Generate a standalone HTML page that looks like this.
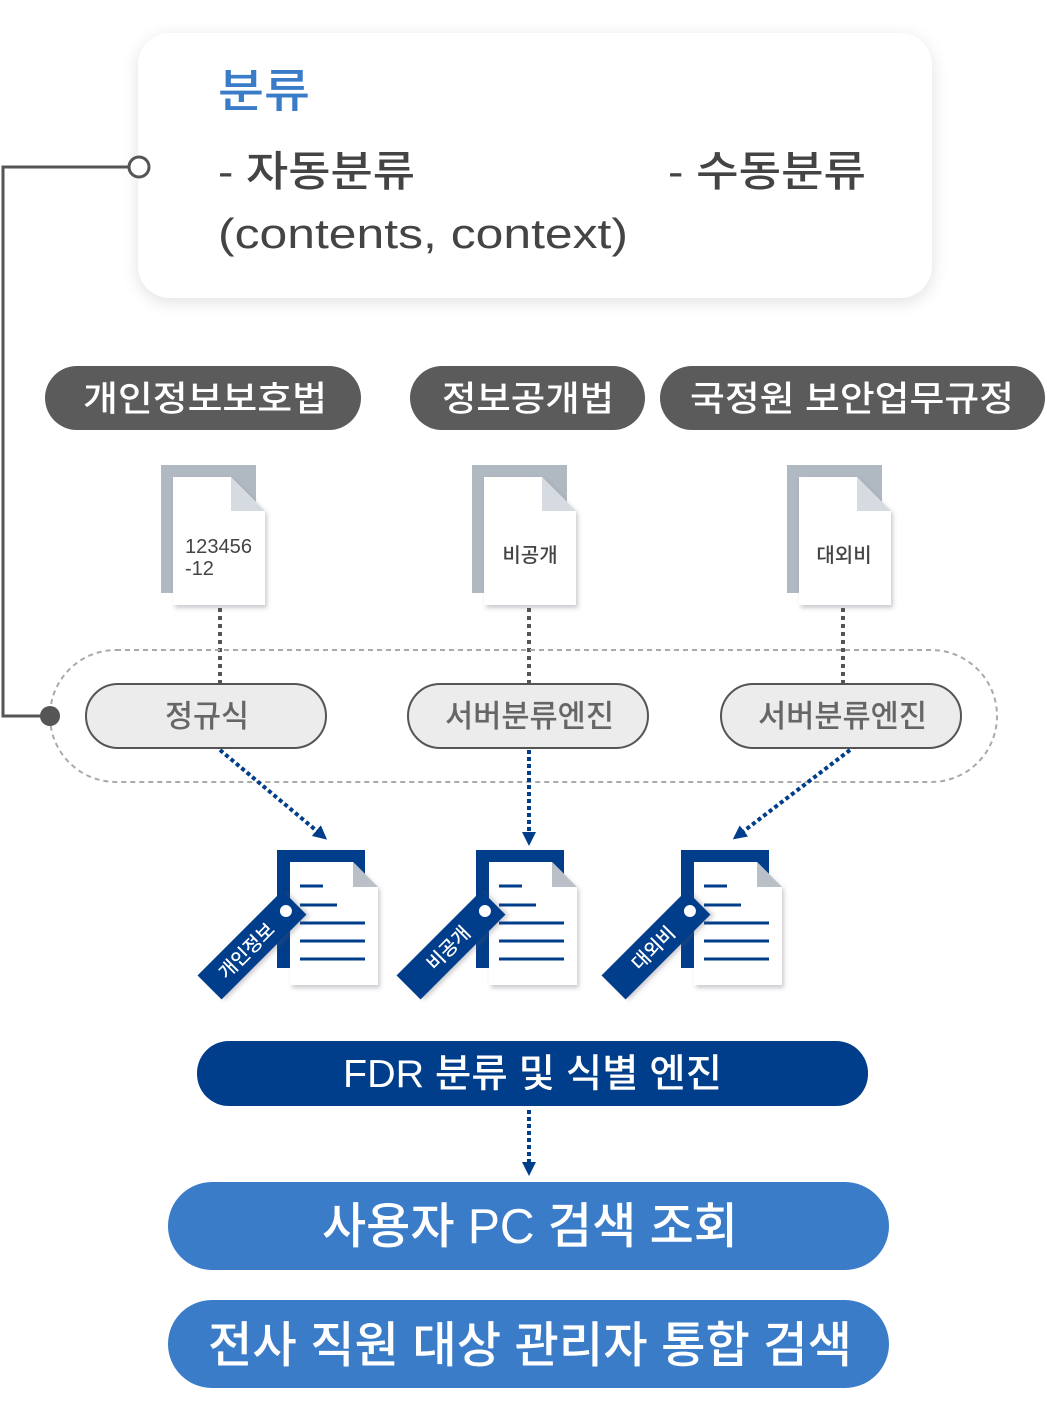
<!DOCTYPE html>
<html><head><meta charset="utf-8"><style>
html,body{margin:0;padding:0;background:#fff;}
svg{display:block;font-family:"Liberation Sans","Noto Sans CJK KR",sans-serif;}
text{font-weight:500;}
</style></head><body>
<svg width="1047" height="1419" viewBox="0 0 1047 1419" xmlns="http://www.w3.org/2000/svg">
<defs>
<filter id="sh" x="-10%" y="-10%" width="120%" height="130%"><feDropShadow dx="0" dy="4" stdDeviation="8" flood-color="#000" flood-opacity="0.12"/></filter>
<filter id="ds" x="-20%" y="-20%" width="150%" height="150%"><feDropShadow dx="2" dy="3" stdDeviation="2" flood-color="#556" flood-opacity="0.3"/></filter>
<marker id="ar" markerWidth="14" markerHeight="14" refX="10" refY="7" orient="auto" markerUnits="userSpaceOnUse" viewBox="0 0 14 14"><path d="M0,0 L14,7 L0,14z" fill="#003d8a"/></marker>
<g id="bdoc">
<rect x="277" y="850" width="88" height="118" fill="#003d8a"/>
<path d="M290 862 H353 L378 887 V985 H290Z" fill="#fff" filter="url(#ds)"/>
<path d="M353 862 L378 887 H353Z" fill="#b9c0c8"/>
<g stroke="#003d8a" stroke-width="3">
<line x1="300" y1="886" x2="323" y2="886"/><line x1="300" y1="905" x2="337" y2="905"/>
<line x1="300" y1="923" x2="365" y2="923"/><line x1="300" y1="941" x2="365" y2="941"/><line x1="300" y1="959" x2="365" y2="959"/>
</g>
</g>
</defs>
<rect x="138" y="33" width="794" height="265" rx="32" fill="#fff" filter="url(#sh)"/>
<text x="218" y="107" font-size="46" font-weight="bold" fill="#3a7cc8" textLength="92" lengthAdjust="spacingAndGlyphs">분류</text>
<text x="218" y="186" font-size="42" fill="#444" textLength="197" lengthAdjust="spacingAndGlyphs">- 자동분류</text>
<text x="218" y="248" font-size="42" fill="#444" textLength="410" lengthAdjust="spacingAndGlyphs">(contents, context)</text>
<text x="668" y="186" font-size="42" fill="#444" textLength="198" lengthAdjust="spacingAndGlyphs">- 수동분류</text>
<polyline points="128,167 3,167 3,716 50,716" fill="none" stroke="#555" stroke-width="3"/>
<circle cx="139" cy="167" r="10" fill="#fff" stroke="#555" stroke-width="3"/>
<rect x="45" y="366" width="316" height="64" rx="32" fill="#5b5b5b"/>
<text x="83" y="411" font-size="35" fill="#fff" textLength="244" lengthAdjust="spacingAndGlyphs">개인정보보호법</text>
<rect x="410" y="366" width="235" height="64" rx="32" fill="#5b5b5b"/>
<text x="442" y="411" font-size="35" fill="#fff" textLength="172" lengthAdjust="spacingAndGlyphs">정보공개법</text>
<rect x="660" y="366" width="385" height="64" rx="32" fill="#5b5b5b"/>
<text x="690" y="411" font-size="35" fill="#fff" textLength="324" lengthAdjust="spacingAndGlyphs">국정원 보안업무규정</text>
<g>
<rect x="161" y="465" width="95" height="128" fill="#b0b8c2"/>
<path d="M173 477 H231 L265 511 V605 H173Z" fill="#fff" filter="url(#ds)"/>
<path d="M231 477 L265 511 H231Z" fill="#d6dbe1"/>
<text x="185" y="553" font-size="20" fill="#444" textLength="67" lengthAdjust="spacingAndGlyphs">123456</text>
<text x="185" y="575" font-size="20" fill="#444">-12</text>
<rect x="472" y="465" width="95" height="128" fill="#b0b8c2"/>
<path d="M484 477 H542 L576 511 V605 H484Z" fill="#fff" filter="url(#ds)"/>
<path d="M542 477 L576 511 H542Z" fill="#d6dbe1"/>
<text x="530" y="562" font-size="20" fill="#444" text-anchor="middle">비공개</text>
<rect x="787" y="465" width="95" height="128" fill="#b0b8c2"/>
<path d="M799 477 H857 L891 511 V605 H799Z" fill="#fff" filter="url(#ds)"/>
<path d="M857 477 L891 511 H857Z" fill="#d6dbe1"/>
<text x="844" y="562" font-size="20" fill="#444" text-anchor="middle">대외비</text>
</g>
<g stroke="#555" stroke-width="4" stroke-dasharray="4 4">
<line x1="220" y1="608" x2="220" y2="684"/><line x1="529" y1="608" x2="529" y2="684"/><line x1="843" y1="608" x2="843" y2="684"/>
</g>
<rect x="50" y="650" width="947" height="132" rx="66" fill="none" stroke="#aaa" stroke-width="2" stroke-dasharray="5 4"/>
<circle cx="50" cy="716" r="10" fill="#555"/>
<rect x="86" y="684" width="240" height="64" rx="32" fill="#ececec" stroke="#555" stroke-width="2"/>
<text x="165" y="727" font-size="31" fill="#666" textLength="84" lengthAdjust="spacingAndGlyphs">정규식</text>
<rect x="408" y="684" width="240" height="64" rx="32" fill="#ececec" stroke="#555" stroke-width="2"/>
<text x="445" y="727" font-size="31" fill="#666" textLength="169" lengthAdjust="spacingAndGlyphs">서버분류엔진</text>
<rect x="721" y="684" width="240" height="64" rx="32" fill="#ececec" stroke="#555" stroke-width="2"/>
<text x="758" y="727" font-size="31" fill="#666" textLength="169" lengthAdjust="spacingAndGlyphs">서버분류엔진</text>
<g stroke="#003d8a" stroke-width="4" stroke-dasharray="4 3" fill="none">
<line x1="220" y1="750" x2="324" y2="837" marker-end="url(#ar)"/>
<line x1="529" y1="750" x2="529" y2="842" marker-end="url(#ar)"/>
<line x1="850" y1="750" x2="736" y2="837" marker-end="url(#ar)"/>
<line x1="529" y1="1110" x2="529" y2="1172" marker-end="url(#ar)"/>
</g>
<use href="#bdoc"/>
<use href="#bdoc" x="199"/>
<use href="#bdoc" x="404"/>
<g transform="translate(252,945) rotate(-45)">
<rect x="-60" y="-17" width="120" height="34" fill="#003d8a" filter="url(#ds)"/>
<circle cx="48" cy="0" r="6" fill="#fff"/>
<text x="-8" y="7" font-size="19" fill="#fff" text-anchor="middle" font-weight="bold">개인정보</text>
</g>
<g transform="translate(451,945) rotate(-45)">
<rect x="-60" y="-17" width="120" height="34" fill="#003d8a" filter="url(#ds)"/>
<circle cx="48" cy="0" r="6" fill="#fff"/>
<text x="-4" y="7" font-size="19" fill="#fff" text-anchor="middle" font-weight="bold">비공개</text>
</g>
<g transform="translate(656,945) rotate(-45)">
<rect x="-60" y="-17" width="120" height="34" fill="#003d8a" filter="url(#ds)"/>
<circle cx="48" cy="0" r="6" fill="#fff"/>
<text x="-4" y="7" font-size="19" fill="#fff" text-anchor="middle" font-weight="bold">대외비</text>
</g>
<rect x="197" y="1041" width="671" height="65" rx="32" fill="#003d8a"/>
<text x="343" y="1087" font-size="39" fill="#fff" textLength="379" lengthAdjust="spacingAndGlyphs">FDR 분류 및 식별 엔진</text>
<rect x="168" y="1182" width="721" height="88" rx="44" fill="#3a7cc8"/>
<text x="322" y="1243" font-size="49" fill="#fff" textLength="416" lengthAdjust="spacingAndGlyphs">사용자 PC 검색 조회</text>
<rect x="168" y="1300" width="721" height="88" rx="44" fill="#3a7cc8"/>
<text x="208" y="1362" font-size="49" fill="#fff" textLength="644" lengthAdjust="spacingAndGlyphs">전사 직원 대상 관리자 통합 검색</text>
</svg>
</body></html>
